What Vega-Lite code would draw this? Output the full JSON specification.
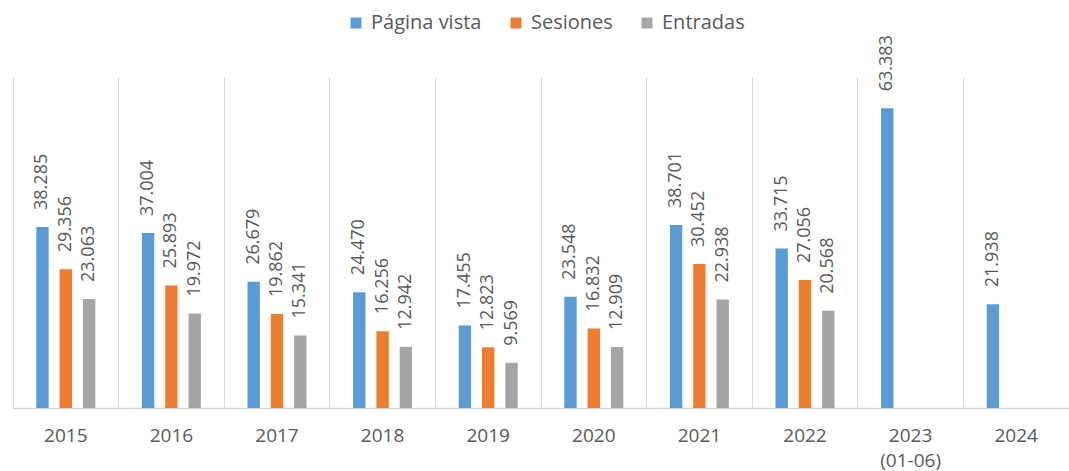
{
  "$schema": "https://vega.github.io/schema/vega-lite/v6.json",
  "autosize": "none",
  "width": 1056,
  "height": 331,
  "padding": {"left": 13, "top": 77, "right": 0, "bottom": 63},
  "background": "white",
  "config": {"view": {"stroke": null}, "font": "Open Sans"},
  "data": {
    "values": [
      {"year": "2015", "serie": "Página vista", "value": 38.285},
      {"year": "2015", "serie": "Sesiones", "value": 29.356},
      {"year": "2015", "serie": "Entradas", "value": 23.063},
      {"year": "2016", "serie": "Página vista", "value": 37.004},
      {"year": "2016", "serie": "Sesiones", "value": 25.893},
      {"year": "2016", "serie": "Entradas", "value": 19.972},
      {"year": "2017", "serie": "Página vista", "value": 26.679},
      {"year": "2017", "serie": "Sesiones", "value": 19.862},
      {"year": "2017", "serie": "Entradas", "value": 15.341},
      {"year": "2018", "serie": "Página vista", "value": 24.470},
      {"year": "2018", "serie": "Sesiones", "value": 16.256},
      {"year": "2018", "serie": "Entradas", "value": 12.942},
      {"year": "2019", "serie": "Página vista", "value": 17.455},
      {"year": "2019", "serie": "Sesiones", "value": 12.823},
      {"year": "2019", "serie": "Entradas", "value": 9.569},
      {"year": "2020", "serie": "Página vista", "value": 23.548},
      {"year": "2020", "serie": "Sesiones", "value": 16.832},
      {"year": "2020", "serie": "Entradas", "value": 12.909},
      {"year": "2021", "serie": "Página vista", "value": 38.701},
      {"year": "2021", "serie": "Sesiones", "value": 30.452},
      {"year": "2021", "serie": "Entradas", "value": 22.938},
      {"year": "2022", "serie": "Página vista", "value": 33.715},
      {"year": "2022", "serie": "Sesiones", "value": 27.056},
      {"year": "2022", "serie": "Entradas", "value": 20.568},
      {"year": "2023 (01-06)", "serie": "Página vista", "value": 63.383},
      {"year": "2024", "serie": "Página vista", "value": 21.938}
    ]
  },
  "encoding": {
    "x": {
      "field": "year",
      "type": "nominal",
      "sort": null,
      "scale": {"paddingInner": 0, "paddingOuter": 0},
      "axis": {
        "title": null,
        "labelAngle": 0,
        "labelFontSize": 19,
        "labelColor": "#595959",
        "labelPadding": 18,
        "labelLineHeight": 25,
        "labelExpr": "datum.value == '2023 (01-06)' ? ['2023', '(01-06)'] : datum.value",
        "ticks": false,
        "domainColor": "#D9D9D9",
        "domainWidth": 1.5,
        "grid": true,
        "gridColor": "#D9D9D9",
        "gridWidth": 1,
        "bandPosition": 0
      }
    },
    "xOffset": {
      "field": "serie",
      "type": "nominal",
      "sort": ["Página vista", "Sesiones", "Entradas"],
      "scale": {"paddingInner": 0.47, "paddingOuter": 1.145}
    },
    "y": {
      "field": "value",
      "type": "quantitative",
      "scale": {"domain": [0, 70], "nice": false},
      "axis": null
    }
  },
  "layer": [
    {
      "mark": {"type": "bar"},
      "encoding": {
        "color": {
          "field": "serie",
          "type": "nominal",
          "sort": ["Página vista", "Sesiones", "Entradas"],
          "scale": {
            "domain": ["Página vista", "Sesiones", "Entradas"],
            "range": ["#5B9BD5", "#ED7D31", "#A5A5A5"]
          },
          "legend": {
            "title": null,
            "orient": "none",
            "legendX": 333,
            "legendY": -64,
            "direction": "horizontal",
            "symbolType": "square",
            "symbolSize": 120,
            "symbolStrokeWidth": 0,
            "labelFontSize": 20,
            "labelColor": "#595959",
            "labelOffset": 5,
            "columnPadding": 24
          }
        }
      }
    },
    {
      "mark": {
        "type": "text",
        "angle": 270,
        "align": "left",
        "baseline": "middle",
        "dx": 17,
        "fontSize": 18,
        "color": "#595959"
      },
      "encoding": {
        "text": {"field": "value", "type": "quantitative", "format": ".3f"}
      }
    }
  ]
}
